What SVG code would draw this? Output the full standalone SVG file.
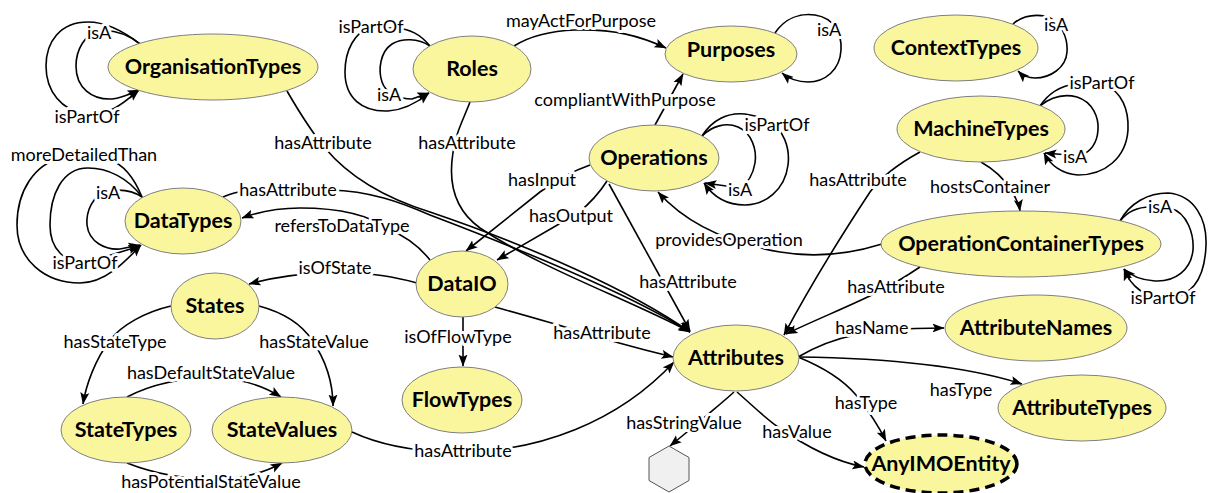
<svg xmlns="http://www.w3.org/2000/svg" width="1208" height="493" viewBox="0 0 1208 493">
  <defs>
    <marker id="arrow" viewBox="0 0 12 10" refX="11.5" refY="5" markerWidth="12" markerHeight="10" markerUnits="userSpaceOnUse" orient="auto">
      <path d="M0,0.5 L12,5 L0,9.5 L2.5,5 z" fill="#000"/>
    </marker>
    <style>
      .node ellipse { fill: #faf69e; stroke: #7f7f7f; stroke-width: 1; }
      .node text { font-family: Lato, "Open Sans", sans-serif; font-weight: 700; font-size: 21.5px; text-anchor: middle; fill: #000; }
      .edge { fill: none; stroke: #000; stroke-width: 1.6; marker-end: url(#arrow); }
      .lbl { font-family: Lato, "Open Sans", sans-serif; font-size: 18px; text-anchor: middle; fill: #000; stroke: #fff; stroke-width: 6; stroke-linejoin: round; paint-order: stroke; }
    </style>
  </defs>
  <rect width="1208" height="493" fill="#fff"/>

  <g id="connectors">
    <!-- self loops -->
    <path class="edge" d="M140,44 C125,32 112,30 100,31 C85,33 76,50 76,66 C76,88 92,100 112,99 C122,98 130,94 139,90"/>
    <path class="edge" d="M140,44 C122,30 105,22 88,22 C60,22 46,42 46,66 C46,92 62,110 85,114 C110,117 127,100 139,90"/>

    <path class="edge" d="M430,46 C420,34 410,29 395,28 L370,28 C355,32 345,50 345,72 C345,98 362,112 388,111 C405,110 418,102 429,93"/>
    <path class="edge" d="M430,46 C418,38 402,38 392,44 C380,52 378,70 382,82 C386,94 400,99 412,99 L429,93"/>

    <path class="edge" d="M775,33 C785,18 800,13 815,15 C835,18 842,35 841,50 C840,70 825,82 808,82 C796,82 788,78 782,73"/>

    <path class="edge" d="M1013,24 C1022,16 1032,14 1045,16 C1062,20 1068,40 1067,52 C1066,68 1050,78 1035,78 C1028,78 1022,75 1018,71"/>

    <path class="edge" d="M1040,106 C1048,94 1060,86 1075,84 L1105,85 C1122,92 1129,110 1128,130 C1126,158 1105,175 1078,175 C1062,174 1050,165 1044,153"/>
    <path class="edge" d="M1040,106 C1052,96 1065,94 1077,97 C1093,102 1099,118 1098,130 C1097,145 1090,152 1080,156 L1045,153"/>

    <path class="edge" d="M702,136 C712,120 728,112 745,114 L765,118 C785,128 790,150 788,165 C785,190 765,205 745,205 C725,205 712,195 704,183"/>
    <path class="edge" d="M702,136 C712,126 726,122 738,127 C752,133 757,150 755,163 C753,175 748,183 740,188 L705,183"/>

    <path class="edge" d="M1120,221 C1128,211 1138,207 1150,207 L1170,208 C1188,213 1194,235 1193,250 C1191,270 1175,282 1155,281 C1140,280 1130,275 1124,269"/>
    <path class="edge" d="M1120,221 C1130,203 1148,193 1168,193 C1195,195 1207,220 1206,245 C1205,275 1195,295 1170,298 C1145,300 1130,285 1124,269"/>

    <path class="edge" d="M142,197 C135,180 125,165 110,160 L60,158 C35,165 17,190 17,225 C17,260 45,283 80,283 C105,283 125,262 141,245"/>
    <path class="edge" d="M142,197 C128,178 108,168 88,168 C62,168 50,195 50,225 C50,250 65,262 85,263 L140,246"/>
    <path class="edge" d="M142,197 C132,190 120,189 108,191 C92,195 86,212 87,225 C89,242 105,250 120,249 L140,245"/>

    <!-- links between nodes -->
    <path class="edge" d="M514,46 C530,36 548,31 575,30 C615,29 640,36 666,48"/>
    <path class="edge" d="M655,125 L683,74"/>
    <path class="edge" d="M470,102 C465,115 460,125 457,135 C447,170 448,205 480,228 C540,268 630,300 690,332"/>
    <path class="edge" d="M287,91 C298,110 310,130 325,148 C350,178 385,198 430,212 C530,246 630,290 690,332"/>
    <path class="edge" d="M223,197 C230,194 235,192 245,191 L330,190 C370,191 400,202 430,215 C530,253 630,294 690,332"/>
    <path class="edge" d="M430,260 C418,245 405,236 390,230 C370,215 340,208 300,208 C275,208 258,212 242,218"/>
    <path class="edge" d="M417,283 C395,277 375,273 340,273 C300,273 275,277 249,284"/>
    <path class="edge" d="M590,165 C570,172 555,181 540,192 L466,251"/>
    <path class="edge" d="M607,181 C598,195 588,205 578,213 L497,260"/>
    <path class="edge" d="M609,184 L690,331"/>
    <path class="edge" d="M463,317 L463,366"/>
    <path class="edge" d="M495,307 C520,314 545,321 565,327 C600,338 640,349 673,357"/>
    <path class="edge" d="M352,432 C380,445 410,451 450,452 C540,454 620,420 674,362"/>
    <path class="edge" d="M171,306 C145,312 122,325 110,340 C95,360 86,385 83,404"/>
    <path class="edge" d="M259,306 C285,313 302,325 312,340 C327,362 333,385 333,406"/>
    <path class="edge" d="M127,397 C150,385 180,378 212,378 C240,378 262,385 281,397"/>
    <path class="edge" d="M127,463 C160,476 190,479 215,479 C242,479 262,474 282,463"/>
    <path class="edge" d="M882,244 C850,254 815,258 780,252 C735,244 690,228 658,192"/>
    <path class="edge" d="M981,162 C995,170 1005,180 1011,190 C1016,198 1019,204 1020,211"/>
    <path class="edge" d="M920,152 C900,163 880,178 870,192 C845,230 808,290 784,335"/>
    <path class="edge" d="M920,267 C905,277 892,285 878,292 C850,306 815,320 786,334"/>
    <path class="edge" d="M798,357 C815,347 835,339 855,335 C875,330 905,328 944,328"/>
    <path class="edge" d="M798,357 C870,358 960,364 1022,384"/>
    <path class="edge" d="M798,357 C825,368 845,382 856,395 C868,410 878,425 886,441"/>
    <path class="edge" d="M737,392 C752,405 765,418 778,427 C808,448 838,462 864,467"/>
    <path class="edge" d="M734,392 C722,403 708,414 698,423 L670,446"/>

    <g id="edge-labels">
      <text class="lbl" x="99" y="39">isA</text>
      <text class="lbl" x="87" y="123">isPartOf</text>
      <text class="lbl" x="371" y="33">isPartOf</text>
      <text class="lbl" x="389" y="101">isA</text>
      <text class="lbl" x="829" y="36">isA</text>
      <text class="lbl" x="1056" y="31">isA</text>
      <text class="lbl" x="1102" y="89">isPartOf</text>
      <text class="lbl" x="1075" y="163">isA</text>
      <text class="lbl" x="777" y="131">isPartOf</text>
      <text class="lbl" x="740" y="196">isA</text>
      <text class="lbl" x="1160" y="213">isA</text>
      <text class="lbl" x="1163" y="304">isPartOf</text>
      <text class="lbl" x="84" y="161">moreDetailedThan</text>
      <text class="lbl" x="108" y="199">isA</text>
      <text class="lbl" x="85" y="269">isPartOf</text>

      <text class="lbl" x="581" y="27">mayActForPurpose</text>
      <text class="lbl" x="625" y="106">compliantWithPurpose</text>
      <text class="lbl" x="467" y="149">hasAttribute</text>
      <text class="lbl" x="323" y="149">hasAttribute</text>
      <text class="lbl" x="288" y="196">hasAttribute</text>
      <text class="lbl" x="342" y="232">refersToDataType</text>
      <text class="lbl" x="335" y="274">isOfState</text>
      <text class="lbl" x="542" y="186">hasInput</text>
      <text class="lbl" x="571" y="222">hasOutput</text>
      <text class="lbl" x="688" y="288">hasAttribute</text>
      <text class="lbl" x="729" y="246">providesOperation</text>
      <text class="lbl" x="858" y="186">hasAttribute</text>
      <text class="lbl" x="990" y="193">hostsContainer</text>
      <text class="lbl" x="896" y="293">hasAttribute</text>
      <text class="lbl" x="458" y="343">isOfFlowType</text>
      <text class="lbl" x="602" y="339">hasAttribute</text>
      <text class="lbl" x="115" y="348">hasStateType</text>
      <text class="lbl" x="314" y="348">hasStateValue</text>
      <text class="lbl" x="211" y="379">hasDefaultStateValue</text>
      <text class="lbl" x="211" y="488">hasPotentialStateValue</text>
      <text class="lbl" x="463" y="457">hasAttribute</text>
      <text class="lbl" x="872" y="334">hasName</text>
      <text class="lbl" x="961" y="396">hasType</text>
      <text class="lbl" x="866" y="409">hasType</text>
      <text class="lbl" x="797" y="438">hasValue</text>
      <text class="lbl" x="684" y="429">hasStringValue</text>
    </g>
  </g>

  <g id="node-OrganisationTypes" class="node"><ellipse cx="213" cy="67" rx="105" ry="33"/><text x="213" y="74">OrganisationTypes</text></g>
  <g id="node-Roles" class="node"><ellipse cx="472" cy="69" rx="59" ry="33"/><text x="472" y="76">Roles</text></g>
  <g id="node-Purposes" class="node"><ellipse cx="731" cy="54" rx="66" ry="28"/><text x="731" y="57">Purposes</text></g>
  <g id="node-Operations" class="node"><ellipse cx="654" cy="158" rx="65" ry="33"/><text x="654" y="165">Operations</text></g>
  <g id="node-ContextTypes" class="node"><ellipse cx="956" cy="48" rx="82" ry="33"/><text x="956" y="55">ContextTypes</text></g>
  <g id="node-MachineTypes" class="node"><ellipse cx="981" cy="129" rx="84" ry="33"/><text x="981" y="136">MachineTypes</text></g>
  <g id="node-OperationContainerTypes" class="node"><ellipse cx="1021" cy="244" rx="140" ry="33"/><text x="1021" y="251">OperationContainerTypes</text></g>
  <g id="node-DataTypes" class="node"><ellipse cx="183" cy="221" rx="58" ry="33"/><text x="183" y="228">DataTypes</text></g>
  <g id="node-DataIO" class="node"><ellipse cx="462" cy="284" rx="46" ry="33"/><text x="462" y="291">DataIO</text></g>
  <g id="node-States" class="node"><ellipse cx="215" cy="306" rx="44" ry="33"/><text x="215" y="313">States</text></g>
  <g id="node-FlowTypes" class="node"><ellipse cx="462" cy="400" rx="60" ry="33"/><text x="462" y="407">FlowTypes</text></g>
  <g id="node-StateTypes" class="node"><ellipse cx="126" cy="430" rx="65" ry="33"/><text x="126" y="437">StateTypes</text></g>
  <g id="node-StateValues" class="node"><ellipse cx="282" cy="430" rx="70" ry="33"/><text x="282" y="437">StateValues</text></g>
  <g id="node-Attributes" class="node"><ellipse cx="736" cy="358" rx="63" ry="33"/><text x="736" y="365">Attributes</text></g>
  <g id="node-AttributeNames" class="node"><ellipse cx="1036" cy="328" rx="91" ry="33"/><text x="1036" y="335">AttributeNames</text></g>
  <g id="node-AttributeTypes" class="node"><ellipse cx="1082" cy="408" rx="84" ry="33"/><text x="1082" y="415">AttributeTypes</text></g>
  <g id="node-AnyIMOEntity" class="node"><ellipse cx="941" cy="464" rx="76" ry="29" style="stroke:#000;stroke-width:3.5;stroke-dasharray:10 6"/><text x="941" y="471">AnyIMOEntity</text></g>
  <g id="node-StringValue"><polygon points="669,446 689,457.5 689,480.5 669,492 649,480.5 649,457.5" fill="#f0f0f0" stroke="#555" stroke-width="1"/></g>
</svg>
